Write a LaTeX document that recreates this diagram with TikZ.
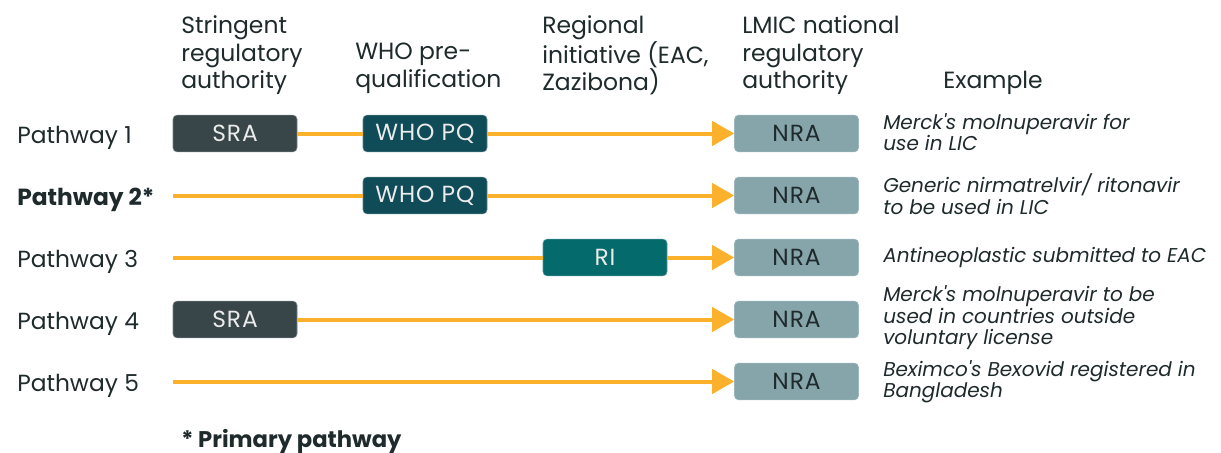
\documentclass[tikz,border=0pt]{standalone}
\usepackage{fontspec}
\setmainfont{Poppins}
\newfontfamily\boxfont[LetterSpace=4]{Poppins}
\newfontfamily\exfont{Poppins}
\usetikzlibrary{arrows.meta}
\definecolor{sracol}{HTML}{384649}
\definecolor{whocol}{HTML}{0F4C58}
\definecolor{ricol}{HTML}{056A6B}
\definecolor{nracol}{HTML}{86A5AB}
\definecolor{linecol}{HTML}{FCB12C}
\definecolor{txtcol}{HTML}{1E2A2C}
\tikzset{
  box/.style={rounded corners=3pt, minimum width=93pt, minimum height=27.5pt, inner sep=0pt,
    font=\boxfont\fontsize{17.5}{19}\selectfont},
  srabox/.style={box, fill=sracol, draw=sracol!70!white, text=white!92!black},
  whobox/.style={box, fill=whocol, draw=whocol!70!white, text=white!92!black},
  ribox/.style={box, fill=ricol, draw=ricol!70!white, text=white!92!black},
  nrabox/.style={box, fill=nracol, draw=nracol!80!white, text=txtcol},
  conn/.style={draw=linecol, line width=3pt},
  arr/.style={conn, -{Triangle[length=16.5pt, width=18pt]}},
  head/.style={anchor=north west, inner sep=0pt, align=left, text=txtcol, font=\fontsize{17.6}{20.6}\selectfont},
  plabel/.style={anchor=base west, inner sep=0pt, text=txtcol, font=\fontsize{17.5}{20}\selectfont},
  example/.style={anchor=west, inner sep=0pt, align=left, text=txtcol, font=\exfont\fontsize{15}{16.1}\selectfont\itshape},
}
\begin{document}
\begin{tikzpicture}[x=0.75pt, y=-0.75pt]
\useasboundingbox (0,0) rectangle (1221,453);
% headers
\node[head] (h1) at (181,15.5) {Stringent\\regulatory\\authority};
\node[head] (h2) at (355,43) {WHO pre-\\qualification};
\node[head] (h3) at (542,15.5) {Regional\\initiative (EAC,\\Zazibona)};
\node[head] (h4) at (742,15.5) {LMIC national\\regulatory\\authority};
\node[head] (h5) at (943,70.5) {Example};
% pathway labels
\node[plabel] (p1) at (17,143) {Pathway 1};
\node[plabel, font=\fontsize{17.5}{20}\selectfont\bfseries] (p2) at (17,205) {Pathway 2*};
\node[plabel] (p3) at (17,267) {Pathway 3};
\node[plabel] (p4) at (17,329) {Pathway 4};
\node[plabel] (p5) at (17,391) {Pathway 5};
% boxes
\node[srabox] (sra1) at (235,133.5) {SRA};
\node[whobox] (who1) at (425,133.5) {WHO PQ};
\node[nrabox] (nra1) at (796.5,133.5) {NRA};
\node[whobox] (who2) at (425,195.5) {WHO PQ};
\node[nrabox] (nra2) at (796.5,195.5) {NRA};
\node[ribox] (ri3) at (605,257.5) {RI};
\node[nrabox] (nra3) at (796.5,257.5) {NRA};
\node[srabox] (sra4) at (235,319.5) {SRA};
\node[nrabox] (nra4) at (796.5,319.5) {NRA};
\node[nrabox] (nra5) at (796.5,381.5) {NRA};
\coordinate (s2) at (173,195.5);
\coordinate (s3) at (173,257.5);
\coordinate (s5) at (173,381.5);
% connectors
\draw[conn] (sra1.east) -- (who1.west);
\draw[arr] (who1.east) -- (nra1.west);
\draw[conn] (s2) -- (who2.west);
\draw[arr] (who2.east) -- (nra2.west);
\draw[conn] (s3) -- (ri3.west);
\draw[arr] (ri3.east) -- (nra3.west);
\draw[arr] (sra4.east) -- (nra4.west);
\draw[arr] (s5) -- (nra5.west);
% examples
\node[example] (e1) at (883,132) {Merck's molnuperavir for\\use in LIC};
\node[example] (e2) at (883,194) {Generic nirmatrelvir/ ritonavir\\to be used in LIC};
\node[example] (e3) at (883,257) {Antineoplastic submitted to EAC};
\node[example] (e4) at (883,318) {Merck's molnuperavir to be\\used in countries outside\\voluntary license};
\node[example] (e5) at (883,382) {Beximco's Bexovid registered in\\Bangladesh};
% footnote
\node[anchor=west, inner sep=0pt, text=txtcol, font=\fontsize{17}{19}\selectfont\bfseries] (fn) at (181,441) {* Primary pathway};
\end{tikzpicture}
\end{document}
